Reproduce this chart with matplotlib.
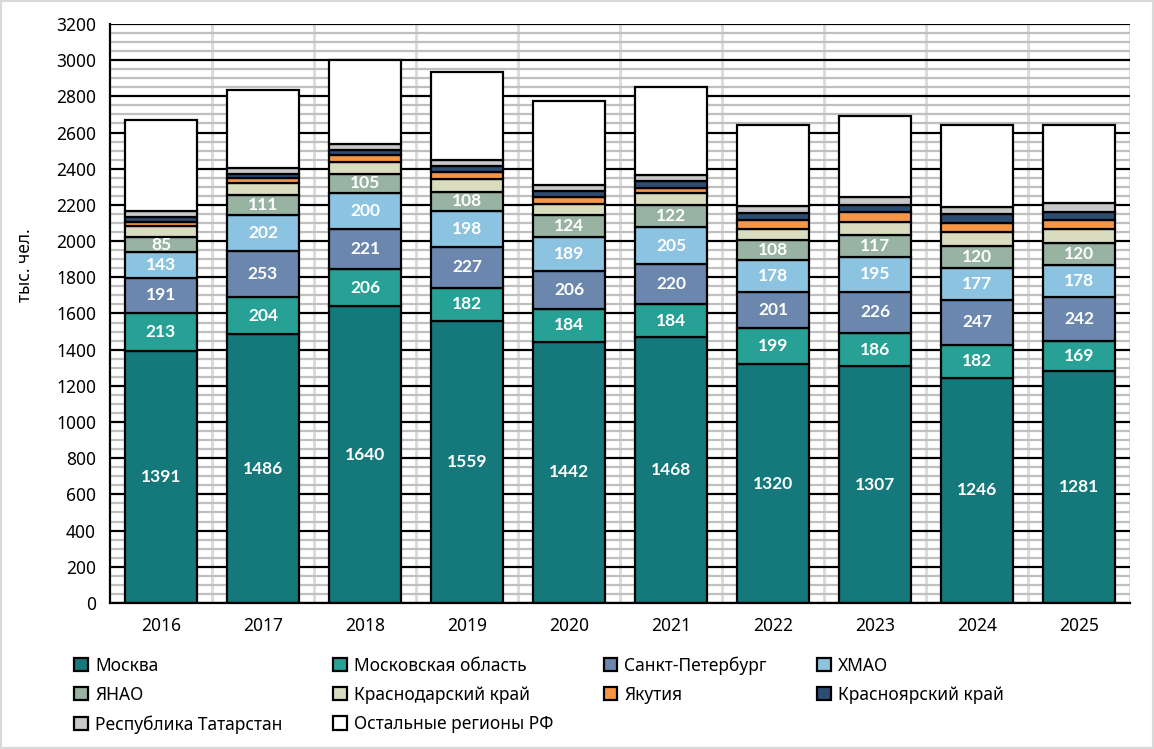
import matplotlib.pyplot as plt
import matplotlib.patches as mpatches
import numpy as np

plt.rcParams['font.family'] = ['Noto Sans', 'DejaVu Sans']

# Data (тыс. чел.)
years = ['2016', '2017', '2018', '2019', '2020', '2021', '2022', '2023', '2024', '2025']
moscow = [1391, 1486, 1640, 1559, 1442, 1468, 1320, 1307, 1246, 1281]
mosobl = [213, 204, 206, 182, 184, 184, 199, 186, 182, 169]
spb = [191, 253, 221, 227, 206, 220, 201, 226, 247, 242]
hmao = [143, 202, 200, 198, 189, 205, 178, 195, 177, 178]
yanao = [85, 111, 105, 108, 124, 122, 108, 117, 120, 120]
krasnodar = [60, 63, 67, 71, 61, 65, 62, 76, 80, 78]
yakutia = [22, 27, 35, 37, 35, 32, 51, 52, 46, 50]
krasnoyarsk = [30, 26, 28, 32, 34, 34, 36, 42, 52, 45]
tatarstan = [32, 31, 36, 34, 34, 36, 37, 45, 37, 48]
others = [502, 431, 462, 485, 464, 485, 450, 448, 455, 431]

series = [
    ('Москва', moscow, '#15787b', True),
    ('Московская область', mosobl, '#27a195', True),
    ('Санкт-Петербург', spb, '#6b87ad', True),
    ('ХМАО', hmao, '#8cc3e0', True),
    ('ЯНАО', yanao, '#98b3a1', True),
    ('Краснодарский край', krasnodar, '#d9dcbf', False),
    ('Якутия', yakutia, '#f79646', False),
    ('Красноярский край', krasnoyarsk, '#2d4c72', False),
    ('Республика Татарстан', tatarstan, '#c8c8c8', False),
    ('Остальные регионы РФ', others, '#ffffff', False),
]

fig = plt.figure(figsize=(11.54, 7.49), dpi=100)
ax = fig.add_axes([0.0953, 0.195, 0.884, 0.773])

x = np.arange(len(years))
bottom = np.zeros(len(years))
handles = []
for name, vals, color, labeled in series:
    bars = ax.bar(x, vals, 0.7, bottom=bottom, color=color, edgecolor='black',
                  linewidth=1.6, zorder=3, label=name)
    if labeled:
        ax.bar_label(bars, labels=[str(v) for v in vals], label_type='center',
                     color='white', fontsize=12.5, fontweight='bold',
                     family=['Lato', 'DejaVu Sans'], zorder=4)
    bottom += np.array(vals)
    handles.append(mpatches.Patch(facecolor=color, edgecolor='black', linewidth=1.6, label=name))

# axes and grid
ax.set_xlim(-0.5, 9.5)
ax.set_ylim(0, 3200)
ax.set_yticks(range(0, 3201, 200))
ax.set_yticks(range(0, 3201, 50), minor=True)
ax.grid(axis='y', which='minor', color='#bfbfbf', linewidth=1.6, zorder=0)
ax.grid(axis='y', which='major', color='black', linewidth=1.6, zorder=1)
for b in np.arange(0.5, 10, 1):
    ax.axvline(b, color='#d9d9d9', linewidth=2, zorder=0.5)
ax.set_axisbelow(True)
ax.set_xticks(x)
ax.set_xticklabels(years)
ax.tick_params(axis='both', which='both', length=0, labelsize=12.5, pad=10)
for s in ['top', 'right']:
    ax.spines[s].set_visible(False)
ax.spines['left'].set_linewidth(1.6)
ax.spines['bottom'].set_linewidth(1.6)
ax.spines['left'].set_zorder(5)
ax.spines['bottom'].set_zorder(5)

fig.text(25 / 1154, 1 - 265 / 749, 'тыс. чел.', rotation=90, ha='center', va='center', fontsize=12.5)

order = [0, 4, 8, 1, 5, 9, 2, 6, 3, 7]
fig.legend([handles[i] for i in order], [series[i][0] for i in order],
           loc='upper left', bbox_to_anchor=(0.051, 0.145), ncol=4, frameon=False,
           fontsize=12.5, handlelength=0.8, handleheight=0.8, handletextpad=0.4,
           columnspacing=2.9, labelspacing=0.65)

fig.patches.append(mpatches.Rectangle((0, 0), 1, 1, transform=fig.transFigure,
                                      fill=False, edgecolor='#d9d9d9', linewidth=3))

fig.savefig('out.png', dpi=100)
